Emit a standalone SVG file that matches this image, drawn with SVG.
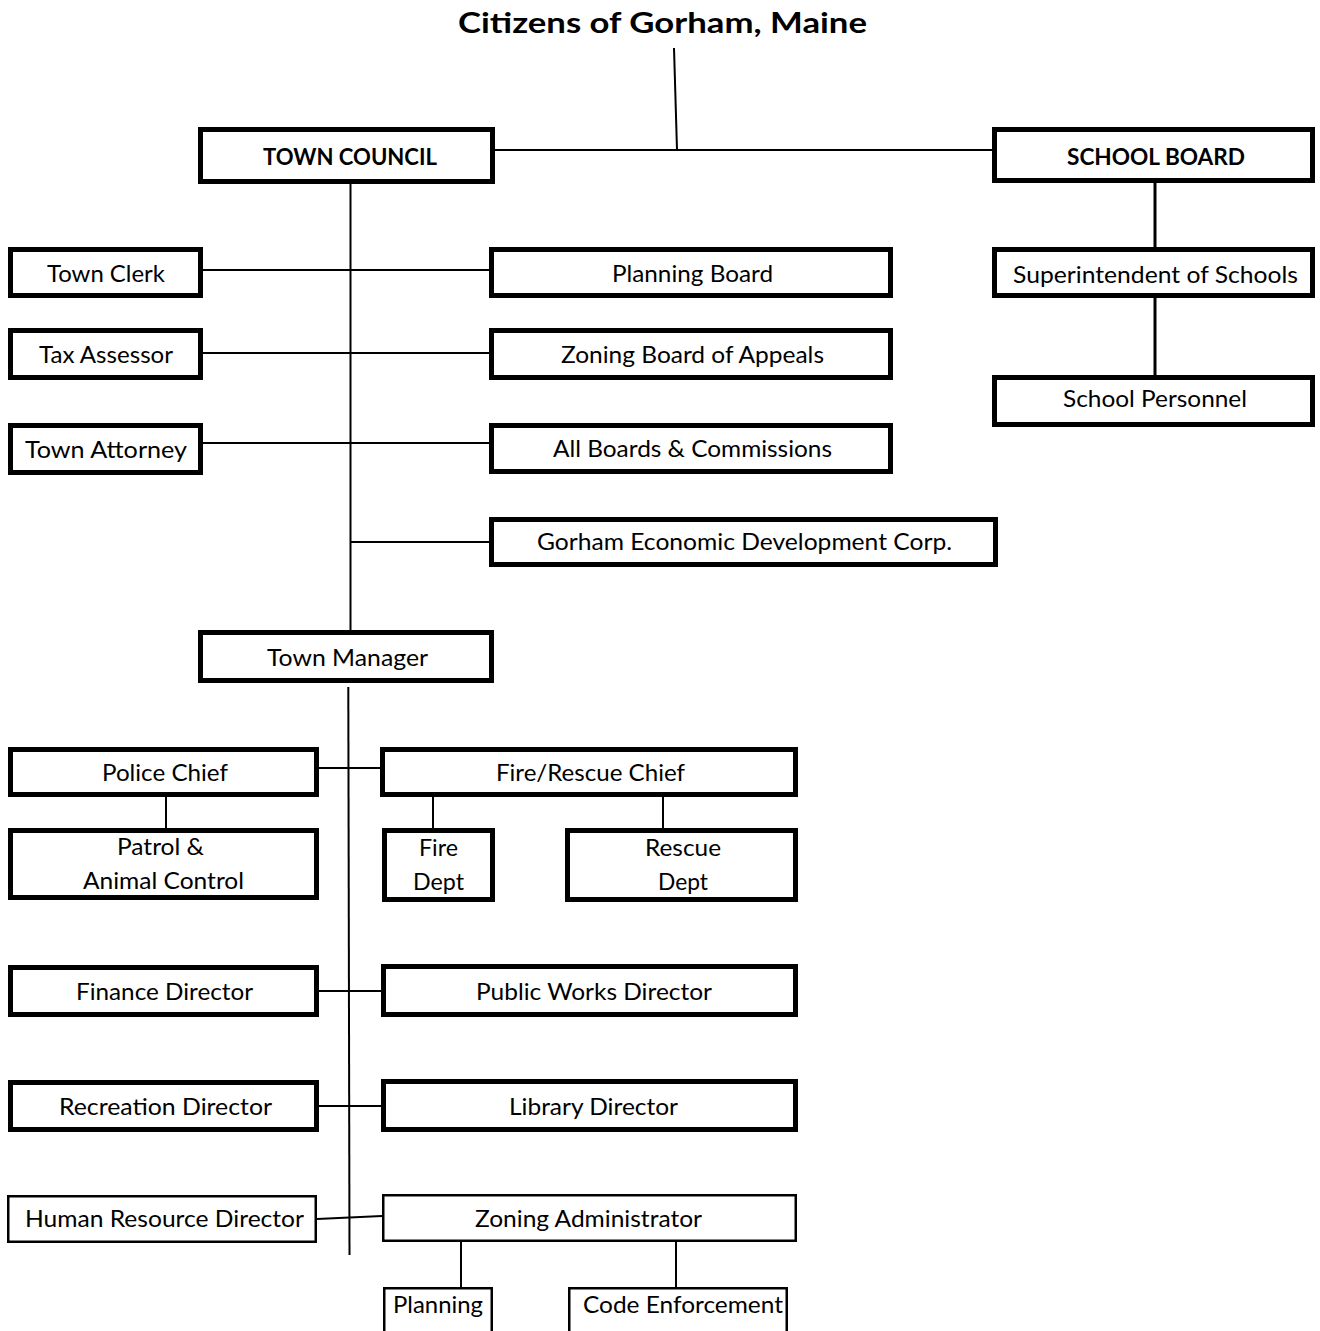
<svg xmlns="http://www.w3.org/2000/svg" width="1320" height="1331" viewBox="0 0 1320 1331">
<style>
.b{fill:#fff;stroke:#000;stroke-width:5}
.t{fill:#fff;stroke:#000;stroke-width:2.5}
.c{stroke:#000;stroke-width:2;fill:none}
.c3{stroke:#000;stroke-width:3;fill:none}
text{font-family:Lato,"Open Sans","Liberation Sans",sans-serif;font-size:23px;fill:#000}
.bold{font-weight:bold}
</style>
<rect width="1320" height="1331" fill="#fff"/>
<g id="connectors">
<line class="c" x1="674" y1="48" x2="677" y2="150"/>
<line class="c" x1="494" y1="150" x2="993" y2="150"/>
<line class="c" x1="350.5" y1="184" x2="350.5" y2="631"/>
<line class="c" x1="203" y1="270" x2="489" y2="270"/>
<line class="c" x1="203" y1="353" x2="489" y2="353"/>
<line class="c" x1="203" y1="443" x2="489" y2="443"/>
<line class="c" x1="350" y1="542" x2="489" y2="542"/>
<line class="c3" x1="1155" y1="183" x2="1155" y2="247"/>
<line class="c3" x1="1155" y1="298" x2="1155" y2="375"/>
<line class="c" x1="348.3" y1="687" x2="349.5" y2="1255"/>
<line class="c" x1="319" y1="768" x2="381" y2="768"/>
<line class="c" x1="166" y1="797" x2="166" y2="828"/>
<line class="c" x1="433" y1="797" x2="433" y2="828"/>
<line class="c" x1="663" y1="797" x2="663" y2="828"/>
<line class="c" x1="319" y1="991" x2="381" y2="991"/>
<line class="c" x1="319" y1="1106" x2="381" y2="1106"/>
<line class="c" x1="317" y1="1219" x2="382" y2="1216"/>
<line class="c" x1="461" y1="1242" x2="461" y2="1287"/>
<line class="c" x1="676" y1="1242" x2="676" y2="1287"/>
</g>
<g id="title"><text class="bold" x="458" y="33" style="font-size:28px" textLength="409" lengthAdjust="spacingAndGlyphs">Citizens of Gorham, Maine</text></g>
<g id="town-council"><rect class="b" x="200.5" y="129.5" width="292" height="52"/><text class="bold" x="263" y="165" textLength="174" lengthAdjust="spacingAndGlyphs">TOWN COUNCIL</text></g>
<g id="school-board"><rect class="b" x="994.5" y="129.5" width="318" height="51"/><text class="bold" x="1067" y="165" textLength="178" lengthAdjust="spacingAndGlyphs">SCHOOL BOARD</text></g>
<g id="superintendent"><rect class="b" x="994.5" y="249.5" width="318" height="46"/><text x="1013" y="283" textLength="285" lengthAdjust="spacingAndGlyphs">Superintendent of Schools</text></g>
<g id="school-personnel"><rect class="b" x="994.5" y="377.5" width="318" height="47"/><text x="1063" y="407" textLength="184" lengthAdjust="spacingAndGlyphs">School Personnel</text></g>
<g id="town-clerk"><rect class="b" x="10.5" y="249.5" width="190" height="46"/><text x="47" y="282" textLength="118" lengthAdjust="spacingAndGlyphs">Town Clerk</text></g>
<g id="tax-assessor"><rect class="b" x="10.5" y="330.5" width="190" height="47"/><text x="39" y="363" textLength="134" lengthAdjust="spacingAndGlyphs">Tax Assessor</text></g>
<g id="town-attorney"><rect class="b" x="10.5" y="425.5" width="190" height="47"/><text x="25" y="458" textLength="162" lengthAdjust="spacingAndGlyphs">Town Attorney</text></g>
<g id="planning-board"><rect class="b" x="491.5" y="249.5" width="399" height="46"/><text x="612" y="282" textLength="161" lengthAdjust="spacingAndGlyphs">Planning Board</text></g>
<g id="zoning-board"><rect class="b" x="491.5" y="330.5" width="399" height="47"/><text x="561" y="363" textLength="263" lengthAdjust="spacingAndGlyphs">Zoning Board of Appeals</text></g>
<g id="all-boards"><rect class="b" x="491.5" y="425.5" width="399" height="46"/><text x="553" y="457" textLength="279" lengthAdjust="spacingAndGlyphs">All Boards &amp; Commissions</text></g>
<g id="gedc"><rect class="b" x="491.5" y="519.5" width="504" height="45"/><text x="537" y="550" textLength="415" lengthAdjust="spacingAndGlyphs">Gorham Economic Development Corp.</text></g>
<g id="town-manager"><rect class="b" x="200.5" y="632.5" width="291" height="48"/><text x="267" y="666" textLength="161" lengthAdjust="spacingAndGlyphs">Town Manager</text></g>
<g id="police-chief"><rect class="b" x="10.5" y="749.5" width="306" height="45"/><text x="102" y="781" textLength="126" lengthAdjust="spacingAndGlyphs">Police Chief</text></g>
<g id="fire-rescue-chief"><rect class="b" x="382.5" y="749.5" width="413" height="45"/><text x="496" y="781" textLength="189" lengthAdjust="spacingAndGlyphs">Fire/Rescue Chief</text></g>
<g id="patrol"><rect class="b" x="10.5" y="830.5" width="306" height="67"/><text x="117" y="855" textLength="87" lengthAdjust="spacingAndGlyphs">Patrol &amp;</text><text x="83" y="889" textLength="161" lengthAdjust="spacingAndGlyphs">Animal Control</text></g>
<g id="fire-dept"><rect class="b" x="384.5" y="830.5" width="108" height="69"/><text x="419" y="856" textLength="39" lengthAdjust="spacingAndGlyphs">Fire</text><text x="413" y="890" textLength="51" lengthAdjust="spacingAndGlyphs">Dept</text></g>
<g id="rescue-dept"><rect class="b" x="567.5" y="830.5" width="228" height="69"/><text x="645" y="856" textLength="76" lengthAdjust="spacingAndGlyphs">Rescue</text><text x="658" y="890" textLength="50" lengthAdjust="spacingAndGlyphs">Dept</text></g>
<g id="finance"><rect class="b" x="10.5" y="967.5" width="306" height="47"/><text x="76" y="1000" textLength="177" lengthAdjust="spacingAndGlyphs">Finance Director</text></g>
<g id="public-works"><rect class="b" x="383.5" y="966.5" width="412" height="48"/><text x="476" y="1000" textLength="236" lengthAdjust="spacingAndGlyphs">Public Works Director</text></g>
<g id="recreation"><rect class="b" x="10.5" y="1082.5" width="306" height="47"/><text x="59" y="1115" textLength="213" lengthAdjust="spacingAndGlyphs">Recreation Director</text></g>
<g id="library"><rect class="b" x="383.5" y="1081.5" width="412" height="48"/><text x="509" y="1115" textLength="169" lengthAdjust="spacingAndGlyphs">Library Director</text></g>
<g id="human-resource"><rect class="t" x="8.25" y="1196.25" width="307.5" height="45.5"/><text x="25" y="1227" textLength="279" lengthAdjust="spacingAndGlyphs">Human Resource Director</text></g>
<g id="zoning-admin"><rect class="t" x="383.25" y="1195.25" width="412.5" height="45.5"/><text x="475" y="1227" textLength="227" lengthAdjust="spacingAndGlyphs">Zoning Administrator</text></g>
<g id="planning"><rect class="t" x="384.25" y="1288.25" width="107.5" height="60"/><text x="393" y="1313" textLength="90" lengthAdjust="spacingAndGlyphs">Planning</text></g>
<g id="code-enforcement"><rect class="t" x="569.25" y="1288.25" width="217.5" height="60"/><text x="583" y="1313" textLength="200" lengthAdjust="spacingAndGlyphs">Code Enforcement</text></g>
</svg>
